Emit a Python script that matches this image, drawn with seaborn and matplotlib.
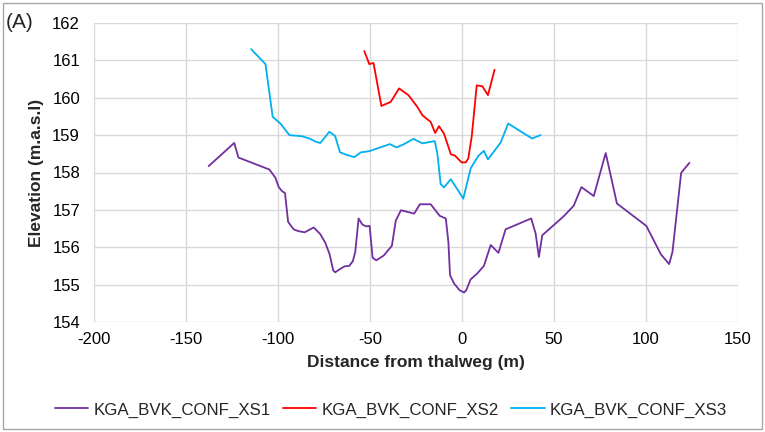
import numpy as np
import pandas as pd
import seaborn as sns
import matplotlib
matplotlib.use("Agg")
import matplotlib.pyplot as plt
from matplotlib.patches import Rectangle
from matplotlib.lines import Line2D

# ---- data ----
xs1_x = [-137.7, -123.8, -121.5, -104.7, -101.4, -99.6, -97.8, -96.2, -94.5, -91.5, -88.8, -85.5,
         -80.6, -77.0, -74.3, -72.0, -70.0, -68.9, -66.5, -63.8, -61.3, -59.3, -58.0, -56.2, -54.2,
         -52.2, -50.2, -48.6, -46.6, -42.5, -38.1, -36.0, -33.2, -26.0, -22.9, -17.0, -12.1, -8.8,
         -7.4, -6.5, -4.3, -1.3, 1.1, 2.3, 4.7, 8.3, 11.9, 15.6, 19.8, 23.7, 37.6, 40.0, 41.8, 43.6,
         55.3, 60.7, 64.9, 71.6, 78.1, 84.2, 100.2, 108.1, 112.6, 114.4, 119.1, 123.6]
xs1_y = [158.17, 158.79, 158.40, 158.08, 157.86, 157.61, 157.50, 157.45, 156.68, 156.48, 156.43, 156.40,
         156.53, 156.35, 156.12, 155.82, 155.38, 155.33, 155.41, 155.49, 155.50, 155.63, 155.88, 156.77, 156.61,
         156.56, 156.57, 155.72, 155.65, 155.78, 156.04, 156.71, 156.99, 156.90, 157.15, 157.15, 156.84, 156.77,
         156.14, 155.25, 155.03, 154.85, 154.79, 154.85, 155.14, 155.30, 155.50, 156.06, 155.85, 156.48, 156.77, 156.37, 155.74, 156.32,
         156.83, 157.11, 157.61, 157.37, 158.52, 157.17, 156.57, 155.81, 155.55, 155.88, 157.99, 158.26]

xs2_x = [-53.1, -50.4, -48.1, -43.8, -38.7, -34.2, -29.1, -24.2, -21.5, -17.0, -14.6, -12.5, -9.8,
         -8.0, -6.1, -3.8, -0.2, 2.0, 3.4, 5.3, 8.0, 11.0, 14.1, 17.7]
xs2_y = [161.25, 160.90, 160.93, 159.78, 159.89, 160.25, 160.07, 159.75, 159.53, 159.35, 159.06, 159.24, 159.04,
         158.78, 158.49, 158.45, 158.27, 158.27, 158.37, 158.97, 160.33, 160.31, 160.07, 160.75]

xs3_x = [-114.6, -106.8, -102.9, -98.7, -93.8, -86.9, -83.0, -79.3, -77.0, -72.1, -69.0, -66.3, -63.1,
         -58.6, -54.9, -50.4, -39.2, -35.6, -31.5, -26.4, -21.5, -14.8, -13.4, -11.6, -9.8, -6.1, -2.5,
         0.7, 4.7, 8.8, 11.9, 14.1, 21.0, 25.1, 30.9, 38.1, 42.7]
xs3_y = [161.30, 160.90, 159.49, 159.31, 159.00, 158.97, 158.91, 158.82, 158.79, 159.09, 158.98, 158.54, 158.48,
         158.41, 158.54, 158.57, 158.76, 158.67, 158.76, 158.90, 158.78, 158.84, 158.51, 157.69, 157.60, 157.82, 157.55,
         157.30, 158.11, 158.44, 158.58, 158.35, 158.80, 159.31, 159.13, 158.91, 159.00]

series_names = ["KGA_BVK_CONF_XS1", "KGA_BVK_CONF_XS2", "KGA_BVK_CONF_XS3"]
colors = ["#7030A0", "#FF0000", "#00B0F0"]

df = pd.concat([
    pd.DataFrame({"x": xs1_x, "y": xs1_y, "series": series_names[0]}),
    pd.DataFrame({"x": xs2_x, "y": xs2_y, "series": series_names[1]}),
    pd.DataFrame({"x": xs3_x, "y": xs3_y, "series": series_names[2]}),
], ignore_index=True)

sns.set_theme(style="white")
plt.rcParams["font.family"] = ["Liberation Sans", "DejaVu Sans"]
plt.rcParams["axes.unicode_minus"] = False

fig = plt.figure(figsize=(7.65, 4.32), dpi=100)
ax = fig.add_axes([94/765, 1-322/432, (738-94)/765, (322-23)/432])

sns.lineplot(data=df, x="x", y="y", hue="series", hue_order=series_names,
             palette=colors, sort=False, estimator=None, units="series",
             linewidth=1.3, ax=ax, legend=False)

ax.set_xlim(-200, 150)
ax.set_ylim(154, 162)
ax.set_xticks(np.arange(-200, 151, 50))
ax.set_yticks(np.arange(154, 163, 1))
ax.grid(True, color="#d9d9d9", linewidth=1.0)
for s in ax.spines.values():
    s.set_visible(False)
ax.tick_params(axis="both", labelsize=12, colors="#000000", length=0)
ax.tick_params(axis="y", pad=10)
ax.tick_params(axis="x", pad=7)
ax.set_xlabel("Distance from thalweg (m)", fontsize=12.5, fontweight="bold", labelpad=6)
ax.set_ylabel("Elevation (m.a.s.l)", fontsize=12.5, fontweight="bold", labelpad=6)

handles = [Line2D([0], [0], color=c, linewidth=1.3) for c in colors]
fig.legend(handles, series_names, loc="center", bbox_to_anchor=(391/765, 1-410/432),
           ncol=3, frameon=False, fontsize=12.2, handlelength=1.95, handletextpad=0.3,
           columnspacing=0.75, borderpad=0, borderaxespad=0)

fig.text(6/765, 1-22/432, "(A)", fontsize=15, va="center", ha="left")
fig.add_artist(Rectangle((0.004, 0.007), 0.992, 0.985, transform=fig.transFigure,
                         fill=False, edgecolor="#a6a6a6", linewidth=1.0))

fig.savefig("out.png", dpi=100)
